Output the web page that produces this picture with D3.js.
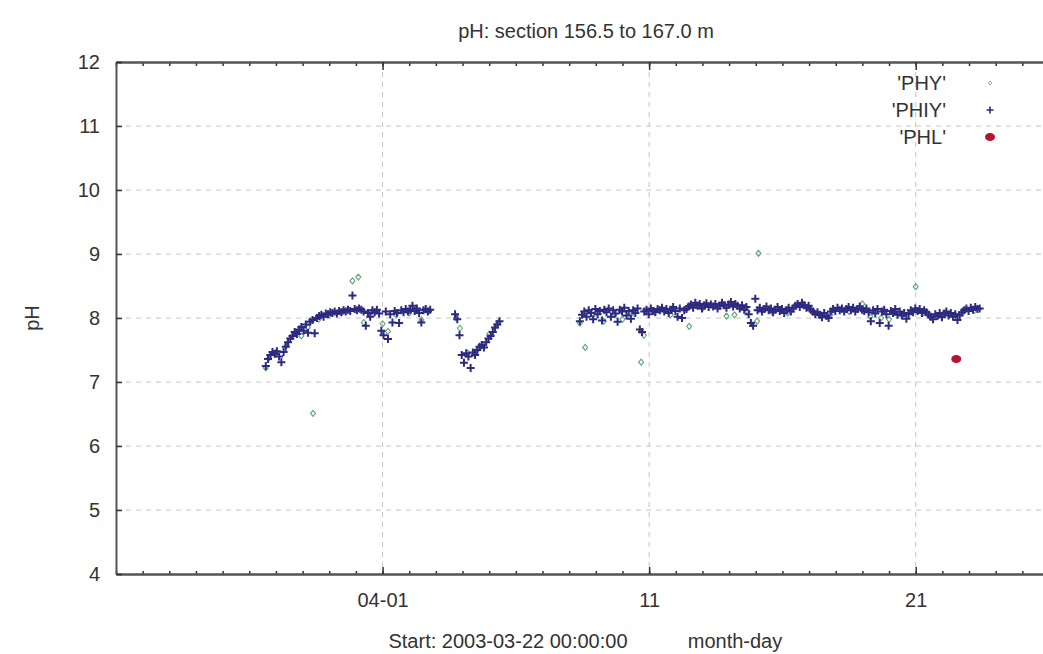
<!DOCTYPE html>
<html>
<head>
<meta charset="utf-8">
<script src="https://cdn.jsdelivr.net/npm/d3@7"></script>
<style>
body { margin: 0; background: #fff; }
text { font-family: "Liberation Sans", Arial, sans-serif; fill: #333; }
</style>
</head>
<body>
<div id="chart"></div>
<script>
// x values are days since 2003-03-22 00:00:00
var xDomain = [0, 35],
    yDomain = [4, 12],
    yTicks = [4, 5, 6, 7, 8, 9, 10, 11, 12],
    xMinorDays = d3.range(0, 36),
    xMajorDays = [10, 20, 30],
    xMajorLabels = ['04-01', '11', '21'];

// PHIY: logged every 2 hours, three runs
var phiyStep = 1 / 12,
    phiyStarts = [5.62, 12.72, 17.40];

var phiySeg1 = [7.25, 7.36, 7.42, 7.47, 7.44, 7.48, 7.40, 7.31, 7.47, 7.55, 7.62, 7.68,
    7.72, 7.78, 7.75, 7.82, 7.86, 7.80, 7.90, 7.77, 7.94, 7.97, 7.76, 8.00,
    8.03, 8.05, 8.02, 8.07, 8.06, 8.09, 8.08, 8.10, 8.07, 8.11, 8.09, 8.12,
    8.10, 8.13, 8.11, 8.35, 8.14, 8.12, 8.15, 8.13, 8.10, 7.88, 8.08, 8.02,
    8.12, 8.09, 8.13, 8.07, 7.80, 7.73, 8.10, 7.67, 8.06, 7.93, 8.11, 8.08,
    7.92, 8.12, 8.09, 8.14, 8.10, 8.13, 8.19, 8.11, 8.15, 8.08, 7.93, 8.12,
    8.14, 8.10, 8.13];

var phiySeg2 = [8.06, 7.98, 7.73, 7.42, 7.30, 7.45, 7.40, 7.22, 7.46, 7.42,
    7.50, 7.55, 7.58, 7.54, 7.62, 7.68, 7.72, 7.78, 7.85, 7.90, 7.95];

var phiySeg3 = [7.95, 8.05, 8.10, 8.02, 8.12, 8.08, 7.98, 8.14, 8.06, 8.11, 7.96, 8.13,
    8.09, 8.15, 8.02, 8.12, 8.07, 7.94, 8.13, 8.10, 8.16, 8.04, 8.11, 7.99,
    8.12, 8.08, 8.15, 7.82, 7.78, 8.10, 8.13, 8.06, 8.15, 8.11, 8.09, 8.14,
    8.12, 8.16, 8.10, 8.14, 8.08, 8.13, 8.17, 8.11, 8.02, 8.15, 8.00, 8.12,
    8.14, 8.18, 8.21, 8.16, 8.24, 8.19, 8.22, 8.15, 8.20, 8.23, 8.17, 8.21,
    8.18, 8.22, 8.15, 8.19, 8.24, 8.20, 8.16, 8.21, 8.25, 8.18, 8.22, 8.19,
    8.15, 8.20, 8.13, 8.17, 8.06, 7.92, 7.88, 8.30, 8.12, 8.16, 8.10, 8.14,
    8.18, 8.12, 8.15, 8.09, 8.13, 8.17, 8.11, 8.14, 8.08, 8.12, 8.16, 8.10,
    8.15, 8.19, 8.22, 8.17, 8.24, 8.20, 8.16, 8.19, 8.13, 8.10, 8.06, 8.09,
    8.05, 8.01, 8.08, 8.03, 8.00, 8.10, 8.14, 8.11, 8.16, 8.12, 8.15, 8.10,
    8.14, 8.17, 8.12, 8.16, 8.10, 8.14, 8.18, 8.13, 8.11, 8.15, 8.09, 7.95,
    8.12, 8.07, 8.14, 7.92, 8.10, 8.13, 8.06, 7.88, 8.11, 8.08, 8.14, 8.05,
    8.10, 8.04, 8.08, 7.99, 8.06, 8.12, 8.09, 8.15, 8.11, 8.14, 8.08, 8.12,
    8.09, 8.05, 8.02, 7.98, 8.06, 8.03, 8.08, 8.01, 8.07, 8.10, 8.04, 8.08,
    8.02, 8.06, 7.97, 8.04, 8.09, 8.12, 8.15, 8.11, 8.16, 8.13, 8.17, 8.14,
    8.15];

// PHY: [day, pH]
var phyPoints = [[5.62, 7.22], [5.75, 7.38], [6.0, 7.45], [6.4, 7.58], [6.7, 7.76], [6.95, 7.72],
    [7.2, 7.85], [7.39, 6.51], [7.6, 7.98], [8.0, 8.05], [8.5, 8.10], [8.87, 8.58],
    [9.09, 8.64], [9.3, 7.93], [9.6, 8.10], [10.0, 7.91], [10.2, 7.79], [10.5, 8.05],
    [11.0, 8.08], [11.46, 7.97], [11.7, 8.10],
    [12.75, 8.00], [12.9, 7.84], [13.2, 7.45], [13.6, 7.52], [14.0, 7.75], [14.35, 7.93],
    [17.4, 7.92], [17.6, 7.54], [17.9, 8.05], [18.3, 7.95], [18.7, 8.05], [19.0, 7.98],
    [19.4, 8.08], [19.7, 7.31], [19.8, 7.73], [20.2, 8.10], [20.8, 8.05], [21.5, 7.87],
    [22.0, 8.15], [22.9, 8.03], [23.2, 8.05], [23.7, 8.10], [24.1, 9.01], [24.05, 7.95],
    [24.6, 8.10], [25.2, 8.08], [26.0, 8.14], [26.8, 8.05], [27.5, 8.10], [28.0, 8.22],
    [28.3, 8.02], [28.7, 8.00], [29.0, 7.98], [29.5, 8.05], [30.0, 8.49], [30.3, 8.08],
    [30.9, 8.05], [31.5, 8.04], [32.2, 8.12]];

// PHL: [day, pH]
var phlPoints = [[31.52, 7.36]];

var legendNames = ["'PHY'", "'PHIY'", "'PHL'"];

var width = 1043,
    height = 654,
    plotLeft = 116,
    plotRight = 1049,
    plotTop = 62,
    plotBottom = 574,
    fontSize = 20,
    phyColor = '#5aa874',
    phiyColor = '#2d2a80',
    phlColor = '#b3142e',
    crossPath = 'M-4,0H4M0,-4V4',
    diamondPath = 'M0,-3L2.5,0L0,3L-2.5,0Z';

var phiyPoints = [];
[phiySeg1, phiySeg2, phiySeg3].forEach(function(seg, s) {
    seg.forEach(function(v, i) {
        phiyPoints.push([phiyStarts[s] + i * phiyStep, v]);
    });
});

var svg = d3.select('#chart').append('svg')
    .attr('width', width)
    .attr('height', height);

var x = d3.scaleLinear().domain(xDomain).range([plotLeft, plotRight]),
    y = d3.scaleLinear().domain(yDomain).range([plotBottom, plotTop]);

// grid
svg.append('g').selectAll('line')
    .data(yTicks.slice(1, -1))
    .enter().append('line')
    .attr('x1', plotLeft).attr('x2', plotRight)
    .attr('y1', function(d) { return y(d); })
    .attr('y2', function(d) { return y(d); })
    .attr('stroke', '#c4c4c4')
    .attr('stroke-dasharray', '5,5');

svg.append('g').selectAll('line')
    .data(xMajorDays)
    .enter().append('line')
    .attr('x1', function(d) { return x(d); })
    .attr('x2', function(d) { return x(d); })
    .attr('y1', plotTop).attr('y2', plotBottom)
    .attr('stroke', '#c4c4c4')
    .attr('stroke-dasharray', '5,5');

// axes
function styleAxis(g) {
    g.select('.domain').attr('stroke', '#555').attr('stroke-width', 2);
    g.selectAll('.tick line').attr('stroke', '#333').attr('stroke-width', 1.5);
    g.selectAll('text').attr('font-size', fontSize).attr('fill', '#333')
        .attr('font-family', '"Liberation Sans", Arial, sans-serif');
}

svg.append('g')
    .attr('transform', 'translate(0,' + plotBottom + ')')
    .call(d3.axisBottom(x).tickValues(xMinorDays).tickSize(-3).tickSizeOuter(0).tickFormat(''))
    .call(styleAxis);

svg.append('g')
    .attr('transform', 'translate(0,' + plotBottom + ')')
    .call(d3.axisBottom(x).tickValues(xMajorDays).tickSize(-7).tickSizeOuter(0).tickPadding(19)
        .tickFormat(function(d, i) { return xMajorLabels[i]; }))
    .call(styleAxis);

svg.append('g')
    .attr('transform', 'translate(0,' + plotTop + ')')
    .call(d3.axisTop(x).tickValues(xMinorDays).tickSize(-4).tickSizeOuter(0).tickFormat(''))
    .call(styleAxis);

svg.append('g')
    .attr('transform', 'translate(0,' + plotTop + ')')
    .call(d3.axisTop(x).tickValues(xMajorDays).tickSize(-8).tickSizeOuter(0).tickFormat(''))
    .call(styleAxis);

svg.append('g')
    .attr('transform', 'translate(' + plotLeft + ',0)')
    .call(d3.axisLeft(y).tickValues(yTicks).tickSize(-6).tickSizeOuter(0).tickPadding(16)
        .tickFormat(d3.format('d')))
    .call(styleAxis);

// data
var plot = svg.append('g');

plot.selectAll('.phy')
    .data(phyPoints)
    .enter().append('path')
    .attr('class', 'phy')
    .attr('d', diamondPath)
    .attr('transform', function(d) { return 'translate(' + x(d[0]) + ',' + y(d[1]) + ')'; })
    .attr('fill', 'none')
    .attr('stroke', phyColor)
    .attr('stroke-width', 1.1);

plot.selectAll('.phiy')
    .data(phiyPoints)
    .enter().append('path')
    .attr('class', 'phiy')
    .attr('d', crossPath)
    .attr('transform', function(d) { return 'translate(' + x(d[0]) + ',' + y(d[1]) + ')'; })
    .attr('stroke', phiyColor)
    .attr('stroke-width', 2);

plot.selectAll('.phl')
    .data(phlPoints)
    .enter().append('ellipse')
    .attr('class', 'phl')
    .attr('cx', function(d) { return x(d[0]); })
    .attr('cy', function(d) { return y(d[1]); })
    .attr('rx', 5).attr('ry', 4)
    .attr('fill', phlColor);

// legend
var legend = svg.append('g').attr('transform', 'translate(946,83)');
legend.selectAll('text')
    .data(legendNames)
    .enter().append('text')
    .attr('x', 0)
    .attr('y', function(d, i) { return i * 27; })
    .attr('dy', '0.35em')
    .attr('text-anchor', 'end')
    .attr('font-size', fontSize)
    .text(function(d) { return d; });

legend.append('path')
    .attr('d', 'M0,-2L1.8,0L0,2L-1.8,0Z')
    .attr('transform', 'translate(44,0)')
    .attr('fill', 'none').attr('stroke', '#8aa890');
legend.append('path')
    .attr('d', 'M-3.5,0H3.5M0,-3.5V3.5')
    .attr('transform', 'translate(44,27)')
    .attr('stroke', phiyColor).attr('stroke-width', 1.6);
legend.append('ellipse')
    .attr('cx', 44).attr('cy', 54).attr('rx', 5).attr('ry', 4)
    .attr('fill', phlColor);

// titles
svg.append('text')
    .attr('x', 586).attr('y', 31).attr('dy', '0.35em')
    .attr('text-anchor', 'middle').attr('font-size', fontSize)
    .text('pH: section 156.5 to 167.0 m');

svg.append('text')
    .attr('transform', 'translate(32,' + (plotTop + plotBottom) / 2 + ') rotate(-90)')
    .attr('dy', '0.35em')
    .attr('text-anchor', 'middle').attr('font-size', fontSize)
    .text('pH');

svg.append('text')
    .attr('x', 508).attr('y', 641).attr('dy', '0.35em')
    .attr('text-anchor', 'middle').attr('font-size', fontSize)
    .text('Start: 2003-03-22 00:00:00');

svg.append('text')
    .attr('x', 735).attr('y', 641).attr('dy', '0.35em')
    .attr('text-anchor', 'middle').attr('font-size', fontSize)
    .text('month-day');
</script>
</body>
</html>
